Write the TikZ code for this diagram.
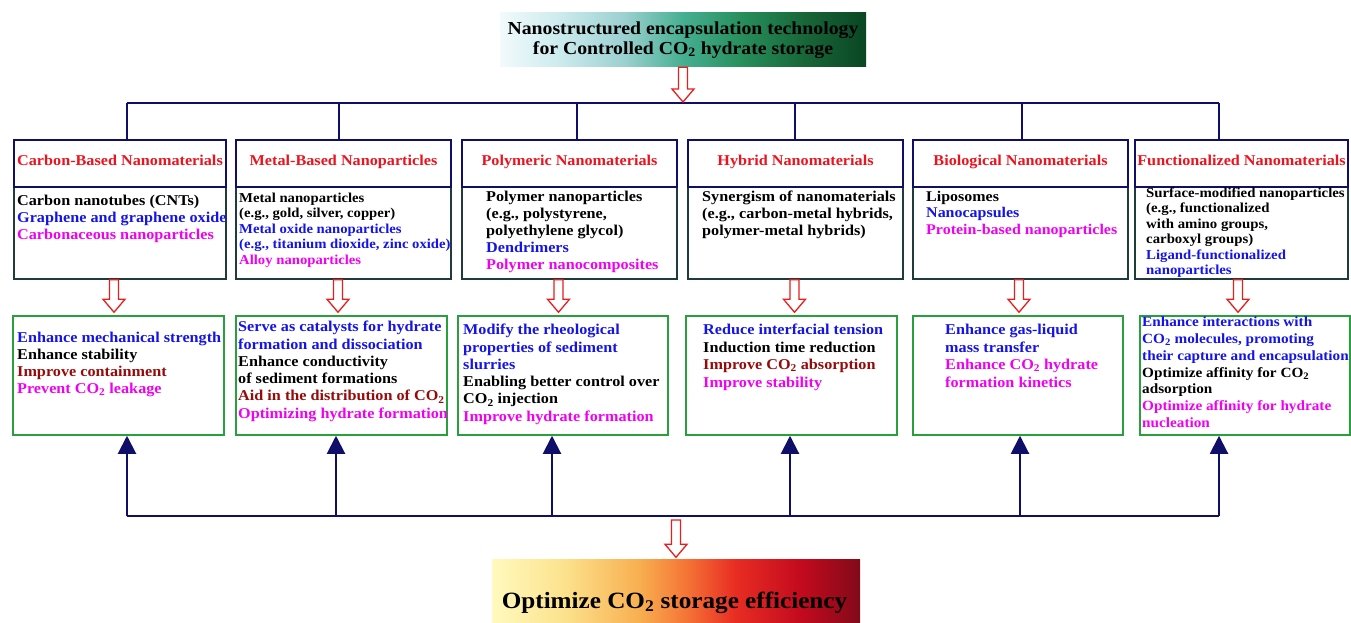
\documentclass[tikz,border=0pt]{standalone}
\usepackage{fontspec}
\setmainfont{Liberation Serif}[FakeStretch=1.08]
\usetikzlibrary{arrows.meta,calc}
\definecolor{hdrred}{RGB}{235,20,30}
\definecolor{tblue}{RGB}{20,20,230}
\definecolor{tmag}{RGB}{240,0,240}
\definecolor{tdred}{RGB}{150,10,10}
\definecolor{navy}{RGB}{15,15,105}
\definecolor{bodyline}{RGB}{30,60,60}
\definecolor{gline}{RGB}{40,160,60}
\definecolor{arrred}{RGB}{232,30,30}
\definecolor{ts0}{RGB}{242,250,252}
\definecolor{ts1}{RGB}{205,235,238}
\definecolor{ts2}{RGB}{155,208,208}
\definecolor{ts3}{RGB}{70,175,145}
\definecolor{ts4}{RGB}{40,142,92}
\definecolor{ts5}{RGB}{25,105,58}
\definecolor{ts6}{RGB}{10,70,35}
\definecolor{bs0}{RGB}{255,250,190}
\definecolor{bs1}{RGB}{252,225,140}
\definecolor{bs2}{RGB}{248,175,80}
\definecolor{bs3}{RGB}{245,120,55}
\definecolor{bs4}{RGB}{232,45,35}
\definecolor{bs5}{RGB}{195,10,30}
\definecolor{bs6}{RGB}{130,10,25}
\pgfdeclarehorizontalshading{titleshade}{100bp}{color(0bp)=(ts0); color(25bp)=(ts0); color(33bp)=(ts1); color(42bp)=(ts2); color(50bp)=(ts3); color(58bp)=(ts4); color(66bp)=(ts5); color(75bp)=(ts6); color(100bp)=(ts6)}
\pgfdeclarehorizontalshading{finalshade}{100bp}{color(0bp)=(bs0); color(25bp)=(bs0); color(35bp)=(bs1); color(45bp)=(bs2); color(51bp)=(bs3); color(58bp)=(bs4); color(67bp)=(bs5); color(75bp)=(bs6); color(100bp)=(bs6)}
\newcommand\hollowarrow[2]{%
  \draw[hollow] let \p1=#1, \p2=#2 in
   (\x1-4.5pt,\y1) -- (\x1+4.5pt,\y1) -- (\x1+4.5pt,\y2+13pt) -- (\x1+11pt,\y2+13pt)
   -- (\x1,\y2) -- (\x1-11pt,\y2+13pt) -- (\x1-4.5pt,\y2+13pt) -- cycle;}
\tikzset{
  hollow/.style={draw=arrred, line width=1.3pt, fill=white, line join=miter},
  hdr/.style={draw=navy, line width=1.5pt, fill=white, inner sep=0pt, minimum height=47pt,
     font=\bfseries\fontsize{15}{17}\selectfont, text=hdrred, text height=10.5pt, text depth=7pt},
  bodybox/.style={draw=bodyline, line width=1.5pt, inner sep=0pt, minimum height=92pt},
  greenbox/.style={draw=gline, line width=1.5pt, inner sep=0pt, minimum height=119pt},
  txt/.style={anchor=north west, inner sep=0pt, align=left, font=\bfseries\fontsize{15}{17}\selectfont},
  bus/.style={draw=navy, line width=2pt},
  navyarr/.style={draw=navy, line width=2pt, -{Triangle[length=18pt,width=18pt]}},
}
\begin{document}
\begin{tikzpicture}[x=1pt,y=-1pt]
\useasboundingbox (0,0) rectangle (1351,623);
% title
\node[shading=titleshade, minimum width=366pt, minimum height=54pt, inner sep=0pt, align=center,
  font=\bfseries\fontsize{18.3}{20}\selectfont] (title) at (683,40)
  {Nanostructured encapsulation technology\\for Controlled CO\textsubscript{2} hydrate storage};
% top bus
\coordinate (tb1) at (127,103);
\coordinate (tb2) at (339,103);
\coordinate (tb3) at (577,103);
\coordinate (tb4) at (795,103);
\coordinate (tb5) at (1022,103);
\coordinate (tb6) at (1219,103);
% upper boxes
\node[bodybox, minimum width=212pt] (b1) at (120,233) {};
\node[bodybox, minimum width=215pt] (b2) at (343.5,233) {};
\node[bodybox, minimum width=215pt] (b3) at (569.5,233) {};
\node[bodybox, minimum width=215pt] (b4) at (795.5,233) {};
\node[bodybox, minimum width=215pt] (b5) at (1020.5,233) {};
\node[bodybox, minimum width=213pt] (b6) at (1241.5,233) {};
\node[hdr, minimum width=212pt] (h1) at (120,163.5) {Carbon-Based Nanomaterials};
\node[hdr, minimum width=215pt] (h2) at (343.5,163.5) {Metal-Based Nanoparticles};
\node[hdr, minimum width=215pt] (h3) at (569.5,163.5) {Polymeric Nanomaterials};
\node[hdr, minimum width=215pt] (h4) at (795.5,163.5) {Hybrid Nanomaterials};
\node[hdr, minimum width=215pt] (h5) at (1020.5,163.5) {Biological Nanomaterials};
\node[hdr, minimum width=213pt] (h6) at (1241.5,163.5) {Functionalized Nanomaterials};
\draw[bus] (tb1) -- (tb6);
\foreach \i in {1,...,6} { \draw[bus] (tb\i) -- (tb\i |- h\i.north); }
\hollowarrow{(title.south)}{([yshift=1pt]title.south |- tb1)}
% upper texts
\node[txt] (t1) at (17,195) {Carbon nanotubes (CNTs)\\\textcolor{tblue}{Graphene and graphene oxide}\\\textcolor{tmag}{Carbonaceous nanoparticles}};
\node[txt, font=\bfseries\fontsize{13.6}{15.5}\selectfont] (t2) at (239,192.5) {Metal nanoparticles\\(e.g., gold, silver, copper)\\\textcolor{tblue}{Metal oxide nanoparticles}\\\textcolor{tblue}{(e.g., titanium dioxide, zinc oxide)}\\\textcolor{tmag}{Alloy nanoparticles}};
\node[txt] (t3) at (486,191) {Polymer nanoparticles\\(e.g., polystyrene,\\polyethylene glycol)\\\textcolor{tblue}{Dendrimers}\\\textcolor{tmag}{Polymer nanocomposites}};
\node[txt] (t4) at (702,191) {Synergism of nanomaterials\\(e.g., carbon-metal hybrids,\\polymer-metal hybrids)};
\node[txt, font=\bfseries\fontsize{14.8}{16.5}\selectfont] (t5) at (926,191) {Liposomes\\\textcolor{tblue}{Nanocapsules}\\\textcolor{tmag}{Protein-based nanoparticles}};
\node[txt, font=\bfseries\fontsize{13.7}{15.5}\selectfont] (t6) at (1146,187.5) {Surface-modified nanoparticles\\(e.g., functionalized\\with amino groups,\\carboxyl groups)\\\textcolor{tblue}{Ligand-functionalized}\\\textcolor{tblue}{nanoparticles}};
% lower boxes
\node[greenbox, minimum width=211pt] (l1) at (118.5,375.5) {};
\node[greenbox, minimum width=211pt] (l2) at (341.5,375.5) {};
\node[greenbox, minimum width=210pt] (l3) at (563,375.5) {};
\node[greenbox, minimum width=211pt] (l4) at (791.5,375.5) {};
\node[greenbox, minimum width=210pt] (l5) at (1018,375.5) {};
\node[greenbox, minimum width=210pt] (l6) at (1245,375.5) {};
% red hollow arrows
\hollowarrow{([xshift=-6pt]b1.south)}{([xshift=-4.5pt,yshift=3pt]l1.north)}
\hollowarrow{([xshift=-5.5pt]b2.south)}{([xshift=-3.5pt,yshift=3pt]l2.north)}
\hollowarrow{([xshift=-11pt]b3.south)}{([xshift=-4.5pt,yshift=3pt]l3.north)}
\hollowarrow{([xshift=-1pt]b4.south)}{([xshift=3pt,yshift=3pt]l4.north)}
\hollowarrow{([xshift=-1.5pt]b5.south)}{([xshift=1pt,yshift=3pt]l5.north)}
\hollowarrow{([xshift=-3.5pt]b6.south)}{([xshift=-7pt,yshift=3pt]l6.north)}
% lower texts
\node[txt] (u1) at (17,332) {\textcolor{tblue}{Enhance mechanical strength}\\Enhance stability\\\textcolor{tdred}{Improve containment}\\\textcolor{tmag}{Prevent CO\textsubscript{2} leakage}};
\node[txt, font=\bfseries\fontsize{15}{17.3}\selectfont] (u2) at (238,321) {\textcolor{tblue}{Serve as catalysts for hydrate}\\\textcolor{tblue}{formation and dissociation}\\Enhance conductivity\\of sediment formations\\\textcolor{tdred}{Aid in the distribution of CO\textsubscript{2}}\\\textcolor{tmag}{Optimizing hydrate formation}};
\node[txt, font=\bfseries\fontsize{15}{17.3}\selectfont] (u3) at (463,324) {\textcolor{tblue}{Modify the rheological}\\\textcolor{tblue}{properties of sediment}\\\textcolor{tblue}{slurries}\\Enabling better control over\\CO\textsubscript{2} injection\\\textcolor{tmag}{Improve hydrate formation}};
\node[txt, font=\bfseries\fontsize{15}{17.5}\selectfont] (u4) at (703,324) {\textcolor{tblue}{Reduce interfacial tension}\\Induction time reduction\\\textcolor{tdred}{Improve CO\textsubscript{2} absorption}\\\textcolor{tmag}{Improve stability}};
\node[txt, font=\bfseries\fontsize{15}{17.5}\selectfont] (u5) at (945,324) {\textcolor{tblue}{Enhance gas-liquid}\\\textcolor{tblue}{mass transfer}\\\textcolor{tmag}{Enhance CO\textsubscript{2} hydrate}\\\textcolor{tmag}{formation kinetics}};
\node[txt, font=\bfseries\fontsize{14.1}{16.7}\selectfont] (u6) at (1142,317) {\textcolor{tblue}{Enhance interactions with}\\\textcolor{tblue}{CO\textsubscript{2} molecules, promoting}\\\textcolor{tblue}{their capture and encapsulation}\\Optimize affinity for CO\textsubscript{2}\\adsorption\\\textcolor{tmag}{Optimize affinity for hydrate}\\\textcolor{tmag}{nucleation}};
% bottom bus and navy arrows
\coordinate (bb1) at (127,516);
\coordinate (bb2) at (336,516);
\coordinate (bb3) at (552,516);
\coordinate (bb4) at (790,516);
\coordinate (bb5) at (1020,516);
\coordinate (bb6) at (1219,516);
\draw[bus] (bb1) -- (bb6);
\foreach \i in {1,...,6} { \draw[navyarr] (bb\i) -- (bb\i |- l\i.south); }
% final box
\node[shading=finalshade, minimum width=368pt, minimum height=64pt, inner sep=0pt] (final) at (676,591) {};
\node[inner sep=0pt, font=\bfseries\fontsize{23.3}{26}\selectfont] (finaltxt) at (674.5,602.5) {Optimize CO\textsubscript{2} storage efficiency};
\coordinate (rb) at (676,520);
\hollowarrow{(rb)}{([yshift=1.5pt]final.north)}
\end{tikzpicture}
\end{document}
